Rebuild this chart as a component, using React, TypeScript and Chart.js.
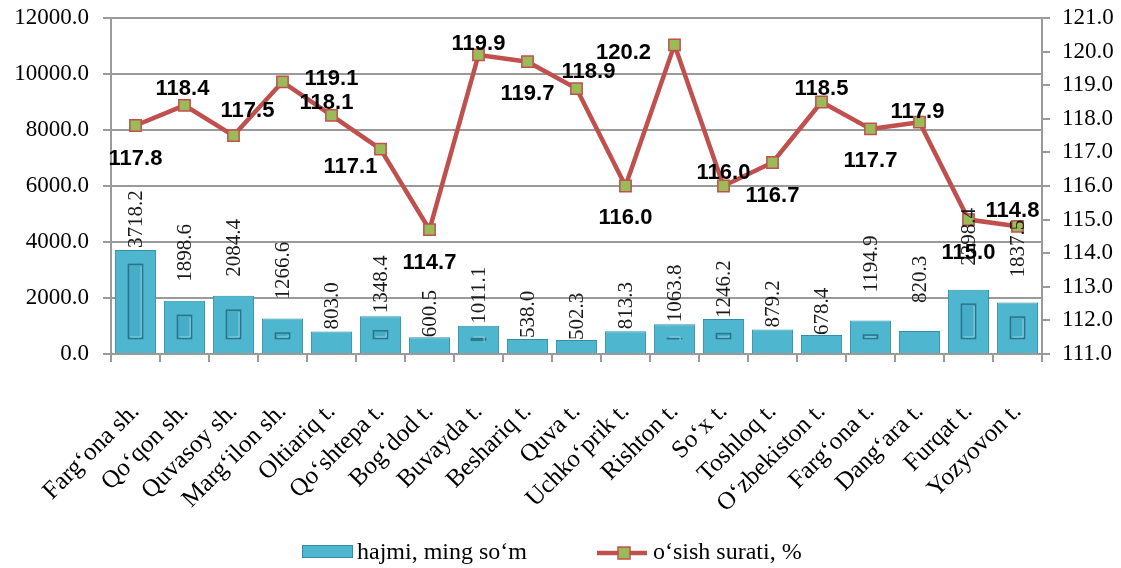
import { useEffect, useRef } from "react";
import { Chart, registerables } from "chart.js";

Chart.register(...registerables);

const categories = [
  "Farg‘ona sh.", "Qo‘qon sh.", "Quvasoy sh.", "Marg‘ilon sh.", "Oltiariq t.",
  "Qo‘shtepa t.", "Bog‘dod t.", "Buvayda t.", "Beshariq t.", "Quva t.",
  "Uchko‘prik t.", "Rishton t.", "So‘x t.", "Toshloq t.", "O‘zbekiston t.",
  "Farg‘ona t.", "Dang‘ara t.", "Furqat t.", "Yozyovon t.",
];

const volumeValues = [
  3718.2, 1898.6, 2084.4, 1266.6, 803.0, 1348.4, 600.5, 1011.1, 538.0, 502.3,
  813.3, 1063.8, 1246.2, 879.2, 678.4, 1194.9, 820.3, 2298.4, 1837.5,
];

const growthValues = [
  117.8, 118.4, 117.5, 119.1, 118.1, 117.1, 114.7, 119.9, 119.7, 118.9,
  116.0, 120.2, 116.0, 116.7, 118.5, 117.7, 117.9, 115.0, 114.8,
];

const volumeLabel = "hajmi, ming so‘m";
const growthLabel = "o‘sish surati, %";

// label placement tweaks (style only)
const growthLabelOffsets: [number, number][] = [
  [0, 33], [-2, -16], [14, -25], [49, -3], [-5, -13], [-30, 18], [0, 33],
  [0, -11], [0, 32], [12, -17], [0, 32], [-51, 8], [0, -13], [0, 33],
  [0, -13], [0, 32], [-2, -10], [0, 33], [-5, -15],
];
const volumeLabelGaps = [2, 19, 19, 19, 2, 3, 0, 2, 1, 0, 2, 2, 1, 2, 0, 28, 28, 24, 25];

const SERIF = "'Liberation Serif', 'Times New Roman', serif";
const SANS = "'Liberation Sans', Arial, sans-serif";
const BAR_COLOR = "#4fb6cf";
const BAR_BORDER = "#2f8ea8";
const LINE_COLOR = "#c0504d";
const MARKER_COLOR = "#9bbb59";
const GRID = "#9a9a9a";

const bevelPlugin = {
  id: "bevel",
  afterDatasetDraw(chart: any, args: any) {
    if (args.index !== 0) return;
    const ctx = chart.ctx;
    const meta = chart.getDatasetMeta(0);
    ctx.save();
    meta.data.forEach((bar: any) => {
      const { x, y, base, width } = bar.getProps(["x", "y", "base", "width"], true);
      const h = base - y;
      if (h < 27) return;
      const l = x - width / 2 + 13.5;
      const r = x + width / 2 - 13.5;
      const t = y + 14.5;
      const b = base - 14.5;
      ctx.fillStyle = "#47adc6";
      ctx.fillRect(l, t, r - l, b - t);
      ctx.strokeStyle = "#2a7489";
      ctx.lineWidth = 1.5;
      ctx.strokeRect(l, t, r - l, b - t);
      ctx.strokeStyle = "#8fd3e3";
      ctx.lineWidth = 1;
      ctx.beginPath();
      ctx.moveTo(l + 2, b - 1.5);
      ctx.lineTo(r - 1.5, b - 1.5);
      ctx.lineTo(r - 1.5, t + 2);
      ctx.stroke();
    });
    ctx.restore();
  },
};

const labelPlugin = {
  id: "valueLabels",
  afterDraw(chart: any) {
    const ctx = chart.ctx;
    ctx.save();
    const barMeta = chart.getDatasetMeta(0);
    ctx.font = `21px ${SERIF}`;
    ctx.fillStyle = "#1a1a1a";
    ctx.textAlign = "left";
    ctx.textBaseline = "middle";
    barMeta.data.forEach((bar: any, i: number) => {
      const { x, y } = bar.getProps(["x", "y"], true);
      ctx.save();
      ctx.translate(x, y - volumeLabelGaps[i]);
      ctx.rotate(-Math.PI / 2);
      ctx.fillText(volumeValues[i].toFixed(1), 0, 1);
      ctx.restore();
    });
    const lineMeta = chart.getDatasetMeta(1);
    ctx.font = `bold 22px ${SANS}`;
    ctx.fillStyle = "#000";
    ctx.textAlign = "center";
    ctx.textBaseline = "middle";
    lineMeta.data.forEach((pt: any, i: number) => {
      const { x, y } = pt.getProps(["x", "y"], true);
      const [dx, dy] = growthLabelOffsets[i];
      ctx.fillText(growthValues[i].toFixed(1), x + dx, y + dy);
    });
    ctx.restore();
  },
};

const legendPlugin = {
  id: "customLegend",
  afterDraw(chart: any) {
    const ctx = chart.ctx;
    const cy = 552;
    ctx.save();
    ctx.fillStyle = BAR_COLOR;
    ctx.fillRect(302, cy - 7, 51, 13);
    ctx.strokeStyle = BAR_BORDER;
    ctx.lineWidth = 1;
    ctx.strokeRect(302.5, cy - 6.5, 50, 12);
    ctx.font = `24px ${SERIF}`;
    ctx.fillStyle = "#000";
    ctx.textAlign = "left";
    ctx.textBaseline = "middle";
    ctx.fillText(volumeLabel, 357, cy + 1);

    ctx.strokeStyle = LINE_COLOR;
    ctx.lineWidth = 4.5;
    ctx.beginPath();
    ctx.moveTo(597, cy + 1);
    ctx.lineTo(647, cy + 1);
    ctx.stroke();
    ctx.fillStyle = MARKER_COLOR;
    ctx.fillRect(618, cy - 5, 12, 12);
    ctx.strokeStyle = LINE_COLOR;
    ctx.lineWidth = 1.5;
    ctx.strokeRect(618, cy - 5, 12, 12);
    ctx.fillStyle = "#000";
    ctx.fillText(growthLabel, 653, cy + 1);
    ctx.restore();
  },
};

export default function App() {
  const ref = useRef<HTMLCanvasElement | null>(null);

  useEffect(() => {
    if (!ref.current) return;
    Chart.defaults.font.family = SERIF;
    const chart = new Chart(ref.current, {
      type: "bar",
      data: {
        labels: categories,
        datasets: [
          {
            type: "bar",
            label: volumeLabel,
            data: volumeValues,
            backgroundColor: BAR_COLOR,
            borderColor: BAR_BORDER,
            borderWidth: 1,
            barPercentage: 0.84,
            categoryPercentage: 1,
            yAxisID: "y",
            order: 1,
          },
          {
            type: "line",
            label: growthLabel,
            data: growthValues,
            borderColor: LINE_COLOR,
            borderWidth: 4.5,
            pointStyle: "rect",
            pointRadius: 8,
            pointBackgroundColor: MARKER_COLOR,
            pointBorderColor: LINE_COLOR,
            pointBorderWidth: 1.5,
            tension: 0,
            yAxisID: "y1",
            order: 0,
          } as any,
        ],
      },
      options: {
        animation: false,
        responsive: true,
        maintainAspectRatio: false,
        layout: { padding: { top: 18, bottom: 44, left: 0, right: 0 } },
        plugins: {
          legend: { display: false },
          tooltip: { enabled: false },
        },
        scales: {
          x: {
            offset: true,
            grid: {
              offset: true,
              drawOnChartArea: false,
              drawTicks: true,
              tickLength: 8,
              color: GRID,
              lineWidth: 2,
            },
            border: { color: GRID, width: 2 },
            ticks: {
              autoSkip: false,
              maxRotation: 45,
              minRotation: 45,
              padding: 35,
              color: "#000",
              font: { size: 25, family: SERIF },
            },
            afterFit(scale: any) {
              scale.height = 170;
              scale.paddingLeft = 0;
              scale.paddingRight = 0;
            },
          },
          y: {
            position: "left",
            min: 0,
            max: 12000,
            ticks: {
              stepSize: 2000,
              padding: 14,
              color: "#000",
              font: { size: 23, family: SERIF },
              callback: (v: any) => Number(v).toFixed(1),
            },
            grid: { color: GRID, lineWidth: 2, tickLength: 8 },
            border: { color: GRID, width: 2 },
            afterFit(scale: any) {
              scale.width = 111;
              scale.paddingTop = 0;
              scale.paddingBottom = 0;
            },
          },
          y1: {
            position: "right",
            min: 111,
            max: 121,
            ticks: {
              stepSize: 1,
              padding: 12,
              color: "#000",
              font: { size: 23, family: SERIF },
              callback: (v: any) => Number(v).toFixed(1),
            },
            grid: { drawOnChartArea: false, color: GRID, lineWidth: 2, tickLength: 8 },
            border: { color: GRID, width: 2 },
            afterFit(scale: any) {
              scale.width = 79;
              scale.paddingTop = 0;
              scale.paddingBottom = 0;
            },
          },
        },
      },
      plugins: [bevelPlugin, labelPlugin, legendPlugin],
    });
    return () => chart.destroy();
  }, []);

  return (
    <div style={{ position: "fixed", left: 0, top: 0, width: 1121, height: 568, background: "#fff" }}>
      <canvas ref={ref} />
    </div>
  );
}
